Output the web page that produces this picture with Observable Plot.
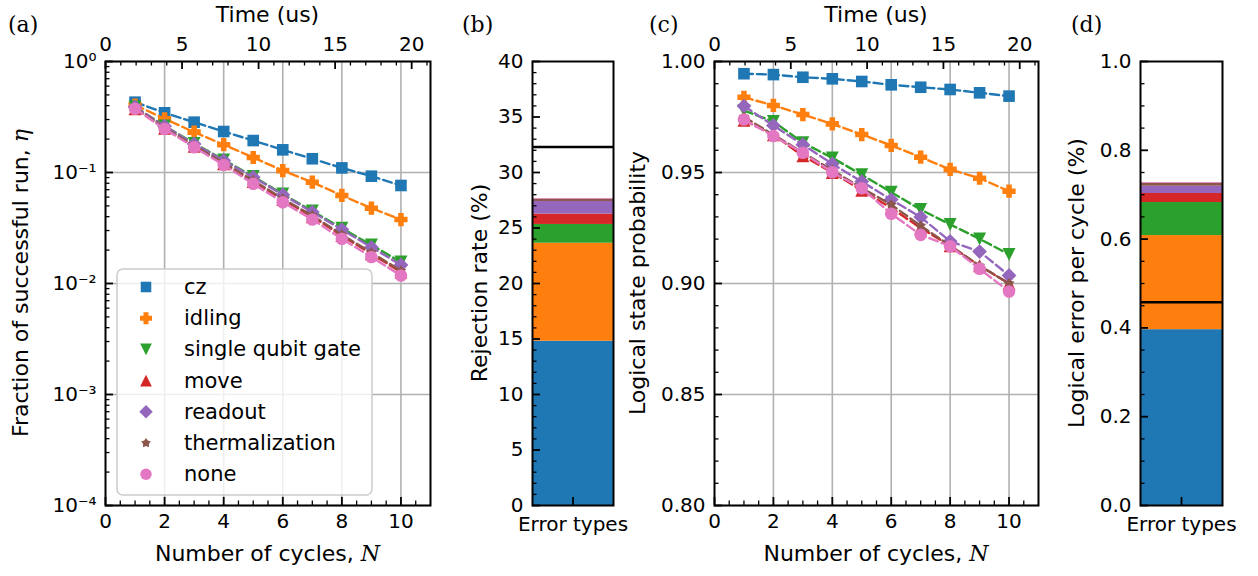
<!DOCTYPE html>
<html><head><meta charset="utf-8">
<script src="https://cdn.jsdelivr.net/npm/d3@7"></script>
<script src="https://cdn.jsdelivr.net/npm/@observablehq/plot@0.6"></script>
<style>
html,body{margin:0;padding:0;background:#fff;}
#fig{position:relative;width:1258px;height:576px;overflow:hidden;font-family:"DejaVu Sans";}
#fig .panel{position:absolute;top:0;}
#fig svg{display:block;}
#overlay{position:absolute;left:0;top:0;pointer-events:none;}
</style></head>
<body><div id="fig"></div>
<script>
// ---------------- data ----------------
const cycles = [1, 2, 3, 4, 5, 6, 7, 8, 9, 10];
const seriesNames = ["cz", "idling", "single qubit gate", "move", "readout", "thermalization", "none"];
const seriesColors = ["#1f77b4", "#ff7f0e", "#2ca02c", "#d62728", "#9467bd", "#8c564b", "#e377c2"];

// (a) fraction of successful run
const successCz       = [0.430, 0.345, 0.284, 0.234, 0.194, 0.160, 0.133, 0.110, 0.0926, 0.0764];
const successIdling   = [0.405, 0.305, 0.231, 0.178, 0.1365, 0.104, 0.0818, 0.0621, 0.0477, 0.0377];
const successSingle   = [0.390, 0.263, 0.183, 0.130, 0.092, 0.064, 0.045, 0.0315, 0.0222, 0.0156];
const successMove     = [0.375, 0.250, 0.172, 0.120, 0.083, 0.057, 0.040, 0.027, 0.0185, 0.0127];
const successReadout  = [0.390, 0.261, 0.181, 0.128, 0.0908, 0.063, 0.044, 0.0306, 0.0212, 0.0147];
const successTherm    = [0.380, 0.253, 0.175, 0.122, 0.085, 0.058, 0.041, 0.0275, 0.019, 0.013];
const successNone     = [0.375, 0.247, 0.169, 0.117, 0.0791, 0.054, 0.0377, 0.0253, 0.0173, 0.0118];

// (c) logical state probability
const stateCz       = [0.9945, 0.9941, 0.9929, 0.9922, 0.9910, 0.9895, 0.9884, 0.9874, 0.9859, 0.9844];
const stateIdling   = [0.9839, 0.9802, 0.9761, 0.9719, 0.9671, 0.9622, 0.9569, 0.9514, 0.9474, 0.9416];
const stateSingle   = [0.9779, 0.9730, 0.9634, 0.9566, 0.9490, 0.9411, 0.9333, 0.9266, 0.9201, 0.9131];
const stateMove     = [0.9735, 0.9670, 0.9575, 0.9500, 0.9420, 0.9340, 0.9250, 0.9170, 0.9080, 0.9000];
const stateReadout  = [0.9799, 0.9712, 0.9625, 0.9539, 0.9459, 0.9378, 0.9299, 0.9190, 0.9144, 0.9036];
const stateTherm    = [0.9750, 0.9670, 0.9590, 0.9510, 0.9430, 0.9355, 0.9260, 0.9170, 0.9080, 0.9000];
const stateNone     = [0.9739, 0.9664, 0.9589, 0.9501, 0.9429, 0.9314, 0.9219, 0.9168, 0.9066, 0.8964];

// (b) rejection rate (%) per error type, and total
const rejectionRate = [14.8, 8.83, 1.69, 0.94, 1.13, 0.21, 0.06];
const rejectionTotal = 32.3;

// (d) logical error per cycle (%) per error type, and total
const logicalErrorPerCycle = [0.396, 0.212, 0.0744, 0.0203, 0.0164, 0.0068, 0.0016];
const logicalErrorTotal = 0.458;

// axes ticks
const cycleTicks = [0, 2, 4, 6, 8, 10];
const cycleMinorTicks = [0.5, 1, 1.5, 2.5, 3, 3.5, 4.5, 5, 5.5, 6.5, 7, 7.5, 8.5, 9, 9.5, 10.5];
const cycleDurationUs = 1.93;
const timeTicksUs = [0, 5, 10, 15, 20];
const timeMinorTicksUs = [1, 2, 3, 4, 6, 7, 8, 9, 11, 12, 13, 14, 16, 17, 18, 19, 21];
const etaTicks = [1e-4, 1e-3, 1e-2, 1e-1, 1];
const probTicks = [0.80, 0.85, 0.90, 0.95, 1.00];
const rejTicks = [0, 5, 10, 15, 20, 25, 30, 35, 40];
const lerTicks = [0, 0.2, 0.4, 0.6, 0.8, 1.0];
const errorCategory = ["Error types"];

// ---------------- symbols ----------------
function sym(fn) { return {draw(c, size) { fn(c, Math.sqrt(size / Math.PI)); }}; }
function poly(c, pts) { c.moveTo(pts[0][0], pts[0][1]); for (let i = 1; i < pts.length; i++) c.lineTo(pts[i][0], pts[i][1]); c.closePath(); }
const symSquare = sym((c, R) => { const h = R * 0.88; poly(c, [[-h, -h], [h, -h], [h, h], [-h, h]]); });
const symPlus = sym((c, R) => { const a = R * 1.0, b = R * 0.42; poly(c, [[-b, -a], [b, -a], [b, -b], [a, -b], [a, b], [b, b], [b, a], [-b, a], [-b, b], [-a, b], [-a, -b], [-b, -b]]); });
const symTriDown = sym((c, R) => { const a = R * 0.98; poly(c, [[0, a], [-a, -a], [a, -a]]); });
const symTriUp = sym((c, R) => { const a = R * 0.98; poly(c, [[0, -a], [-a, a], [a, a]]); });
const symDiamond = sym((c, R) => { const a = R * 1.12; poly(c, [[0, -a], [a, 0], [0, a], [-a, 0]]); });
const symStar = sym((c, R) => { const o = R * 0.85, n = R * 0.5, p = []; for (let i = 0; i < 10; i++) { const r = i % 2 ? n : o, t = -Math.PI / 2 + i * Math.PI / 5; p.push([r * Math.cos(t), r * Math.sin(t)]); } poly(c, p); });
const symCircle = sym((c, R) => { const r = R * 0.95; c.moveTo(r, 0); c.arc(0, 0, r, 0, 2 * Math.PI); c.closePath(); });
const seriesSymbols = [symSquare, symPlus, symTriDown, symTriUp, symDiamond, symStar, symCircle];

// ---------------- layout ----------------
const H = 576, MT = 61, MB = 71, FH = H - MT - MB;
const FONT = "DejaVu Sans", FS = 20;
const GRID = "#b0b0b0";
const MAJ = 8, MIN = 4.5;
const MR = 6.6;
const baseStyle = {fontFamily: FONT, fontSize: FS + "px", background: "transparent", overflow: "visible", color: "#000"};

function yTickMarks(major, minor, fw) {
  return [
    Plot.ruleY(major, {y: d => d, insetRight: fw - MAJ, stroke: "#000", strokeWidth: 1.8}),
    Plot.ruleY(minor, {y: d => d, insetRight: fw - MIN, stroke: "#000", strokeWidth: 1.3})
  ];
}

function linePanel({width, ml, mr, y, yMajor, yMinor, yFormat, runs}) {
  const fw = width - ml - mr;
  const timeMajorX = timeTicksUs.map(t => t / cycleDurationUs);
  const timeMinorX = timeMinorTicksUs.map(t => t / cycleDurationUs);
  const marks = [
    Plot.gridX(cycleTicks.filter(d => d > 0), {stroke: GRID, strokeOpacity: 1, strokeWidth: 1.6}),
    Plot.gridY(yMajor, {stroke: GRID, strokeOpacity: 1, strokeWidth: 1.6})
  ];
  runs.forEach((vals, k) => {
    const d = cycles.map((n, i) => ({n, v: vals[i]}));
    marks.push(Plot.line(d, {x: "n", y: "v", stroke: seriesColors[k], strokeWidth: 2.4, strokeDasharray: "9,4"}));
    marks.push(Plot.dot(d, {x: "n", y: "v", fill: seriesColors[k], symbol: seriesSymbols[k], r: MR, stroke: "none"}));
  });
  marks.push(
    Plot.ruleX(cycleTicks, {x: d => d, insetTop: FH - MAJ, stroke: "#000", strokeWidth: 1.8}),
    Plot.ruleX(cycleMinorTicks, {x: d => d, insetTop: FH - MIN, stroke: "#000", strokeWidth: 1.3}),
    Plot.ruleX(timeMajorX, {x: d => d, insetBottom: FH - MAJ, stroke: "#000", strokeWidth: 1.8}),
    Plot.ruleX(timeMinorX, {x: d => d, insetBottom: FH - MIN, stroke: "#000", strokeWidth: 1.3}),
    ...yTickMarks(yMajor, yMinor, fw),
    Plot.axisX(cycleTicks, {anchor: "bottom", tickSize: 0, tickPadding: 8, tickFormat: d => String(d), label: null}),
    Plot.axisX(timeMajorX, {anchor: "top", tickSize: 0, tickPadding: 11, tickFormat: d => String(Math.round(d * cycleDurationUs)), label: null}),
    Plot.axisY(yMajor, {anchor: "left", tickSize: 0, tickPadding: 9, tickFormat: yFormat, label: null}),
    Plot.frame({stroke: "#000", strokeWidth: 2})
  );
  return Plot.plot({
    width, height: H, marginLeft: ml, marginRight: mr, marginTop: MT, marginBottom: MB,
    style: baseStyle,
    x: {domain: [0, 11]},
    y,
    marks
  });
}

function barPanel({width, ml, mr, values, total, yDomain, yMajor, yMinor, yFormat}) {
  const fw = width - ml - mr;
  const d = seriesNames.map((s, k) => ({cat: errorCategory[0], series: s, v: values[k]}));
  return Plot.plot({
    width, height: H, marginLeft: ml, marginRight: mr, marginTop: MT, marginBottom: MB,
    style: baseStyle,
    x: {type: "band", domain: errorCategory, padding: 0, round: false},
    y: {domain: yDomain},
    color: {domain: seriesNames, range: seriesColors},
    marks: [
      Plot.barY(d, {x: "cat", y: "v", fill: "series"}),
      Plot.ruleY([total], {y: d => d, stroke: "#000", strokeWidth: 2.5}),
      Plot.ruleX(errorCategory, {x: d => d, insetTop: FH - MAJ, stroke: "#000", strokeWidth: 1.8}),
      ...yTickMarks(yMajor, yMinor, fw),
      Plot.axisX(errorCategory, {anchor: "bottom", tickSize: 0, tickPadding: 11, label: null}),
      Plot.axisY(yMajor, {anchor: "left", tickSize: 0, tickPadding: 9, tickFormat: yFormat, label: null}),
      Plot.frame({stroke: "#000", strokeWidth: 2})
    ]
  });
}

const sup = {"-": "\u207b", "0": "\u2070", "1": "\u00b9", "2": "\u00b2", "3": "\u00b3", "4": "\u2074"};
const powFormat = d => "10" + String(Math.round(Math.log10(d))).split("").map(ch => sup[ch]).join("");

const etaMinor = [];
for (let e = -4; e < 0; e++) for (let m = 2; m <= 9; m++) etaMinor.push(m * Math.pow(10, e));
const probMinor = d3.range(80, 101).filter(k => k % 5).map(k => k / 100);
const rejMinor = d3.range(0, 41).filter(k => k % 5);
const lerMinor = d3.range(0, 21).filter(k => k % 4).map(k => k / 20);

const fig = document.getElementById("fig");
function place(svg, left) {
  const div = document.createElement("div");
  div.className = "panel"; div.style.left = left + "px";
  div.appendChild(svg); fig.appendChild(div);
}

place(linePanel({
  width: 440, ml: 105, mr: 10,
  y: {type: "log", domain: [1e-4, 1]},
  yMajor: etaTicks, yMinor: etaMinor, yFormat: powFormat,
  runs: [successCz, successIdling, successSingle, successMove, successReadout, successTherm, successNone]
}), 0);

place(barPanel({
  width: 180, ml: 92, mr: 7, values: rejectionRate, total: rejectionTotal,
  yDomain: [0, 40], yMajor: rejTicks, yMinor: rejMinor, yFormat: d => String(d)
}), 440);

place(linePanel({
  width: 440, ml: 94, mr: 22,
  y: {domain: [0.8, 1.0]},
  yMajor: probTicks, yMinor: probMinor, yFormat: d => d.toFixed(2),
  runs: [stateCz, stateIdling, stateSingle, stateMove, stateReadout, stateTherm, stateNone]
}), 620);

place(barPanel({
  width: 198, ml: 80, mr: 36, values: logicalErrorPerCycle, total: logicalErrorTotal,
  yDomain: [0, 1], yMajor: lerTicks, yMinor: lerMinor, yFormat: d => d.toFixed(1)
}), 1060);

// ---------------- overlay: titles, labels, legend ----------------
const LFS = 22;
const ov = d3.select(fig).append("svg").attr("id", "overlay").attr("width", 1258).attr("height", 576)
  .style("font-family", FONT).style("font-size", LFS + "px");

function label(x, y, parts, opts = {}) {
  const t = ov.append("text").attr("x", x).attr("y", y)
    .attr("text-anchor", opts.anchor || "middle")
    .attr("fill", "#000");
  if (opts.size) t.attr("font-size", opts.size);
  if (opts.rotate) t.attr("transform", `rotate(-90 ${x} ${y})`).attr("dominant-baseline", "central");
  parts.forEach(p => {
    const s = t.append("tspan").text(p.text);
    if (p.math) s.attr("font-family", "DejaVu Serif").attr("font-style", "italic");
    if (p.serif) s.attr("font-family", "DejaVu Serif");
  });
  return t;
}

label(8, 32, [{text: "(a)", serif: true}], {anchor: "start"});
label(462, 32, [{text: "(b)", serif: true}], {anchor: "start"});
label(649, 32, [{text: "(c)", serif: true}], {anchor: "start"});
label(1071, 32, [{text: "(d)", serif: true}], {anchor: "start"});

label(267.5, 22, [{text: "Time (us)"}]);
label(876, 22, [{text: "Time (us)"}]);
label(267.5, 561, [{text: "Number of cycles, "}, {text: "N", math: true}]);
label(876, 561, [{text: "Number of cycles, "}, {text: "N", math: true}]);

label(20, 283, [{text: "Fraction of successful run, "}, {text: "\u03b7", math: true}], {rotate: true});
label(479, 283, [{text: "Rejection rate (%)"}], {rotate: true});
label(637, 283, [{text: "Logical state probability"}], {rotate: true});
label(1076, 283, [{text: "Logical error per cycle (%)"}], {rotate: true});

// legend for panel (a)
const lg = ov.append("g").attr("font-size", 21);
lg.append("rect").attr("x", 117).attr("y", 269).attr("width", 255).attr("height", 226).attr("rx", 6)
  .attr("fill", "#fff").attr("fill-opacity", 0.8).attr("stroke", "#cccccc").attr("stroke-width", 1.5);
seriesNames.forEach((name, k) => {
  const cy = 287 + k * 31.2;
  lg.append("path").attr("transform", `translate(146,${cy})`)
    .attr("d", d3.symbol(seriesSymbols[k], Math.PI * 36)())
    .attr("fill", seriesColors[k]);
  lg.append("text").attr("x", 184).attr("y", cy).attr("dominant-baseline", "central").text(name);
});
</script>
</body></html>
